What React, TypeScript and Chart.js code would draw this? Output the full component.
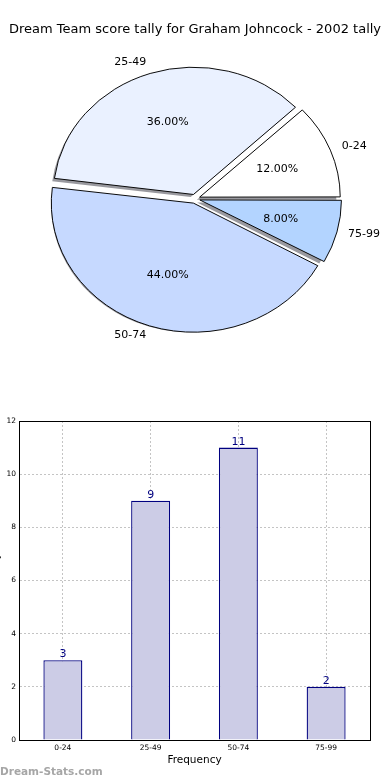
import React, { useEffect, useRef } from 'react';
import { Chart, registerables } from 'chart.js';

Chart.register(...registerables);

const TITLE = 'Dream Team score tally for Graham Johncock - 2002 tally';
const categories = ['0-24', '25-49', '50-74', '75-99'];
const counts = [3, 9, 11, 2];
const pieColors = ['#ffffff', '#eaf1ff', '#c6d9ff', '#b3d4ff'];
const yTicks = [0, 2, 4, 6, 8, 10, 12];
const X_LABEL = 'Frequency';
const Y_LABEL = 'Score tally';
const WATERMARK = 'Dream-Stats.com';

const FONT = "'DejaVu Sans', sans-serif";
const BAR_FILL = '#ccccE6';
const BAR_EDGE = '#000080';
const SY = 0.908; // vertical squash of the pie
const SHADOW = 0.02;

export default function App() {
  const pieRef = useRef<HTMLCanvasElement>(null);
  const barRef = useRef<HTMLCanvasElement>(null);

  useEffect(() => {
    document.body.style.margin = '0';
    const total = counts.reduce((a, b) => a + b, 0);
    const order = categories.map((_, i) => categories.length - 1 - i);

    const arcGeom = (arc: any) => {
      const p = arc.getProps(['x', 'y', 'startAngle', 'endAngle', 'outerRadius'], true);
      const mid = (p.startAngle + p.endAngle) / 2;
      const off = (arc.options.offset || 0) / 4;
      return { ...p, mid, off };
    };

    const pieDecor = {
      id: 'pieDecor',
      beforeDatasetsDraw(chart: any) {
        const meta = chart.getDatasetMeta(0);
        const ctx = chart.ctx;
        const a0 = meta.data[0];
        const cx = a0.x, cy = a0.y;
        ctx.save();
        ctx.translate(cx, cy);
        ctx.scale(1, SY);
        ctx.translate(-cx, -cy);
        ctx.save();
        ctx.fillStyle = 'rgba(70,70,80,0.55)';
        meta.data.forEach((arc: any) => {
          const g = arcGeom(arc);
          const d = SHADOW * g.outerRadius;
          const ox = g.x + Math.cos(g.mid) * g.off - d;
          const oy = g.y + Math.sin(g.mid) * g.off + d;
          ctx.beginPath();
          ctx.moveTo(ox, oy);
          ctx.arc(ox, oy, g.outerRadius + 0.5, g.startAngle, g.endAngle);
          ctx.closePath();
          ctx.fill();
        });
        ctx.restore();
      },
      afterDatasetsDraw(chart: any) {
        const ctx = chart.ctx;
        ctx.restore();
        const meta = chart.getDatasetMeta(0);
        ctx.save();
        ctx.fillStyle = '#000';
        ctx.font = `11px ${FONT}`;
        ctx.textBaseline = 'middle';
        meta.data.forEach((arc: any, i: number) => {
          const ci = order[i];
          const g = arcGeom(arc);
          const R = g.outerRadius;
          const lr = g.off + 1.1 * R;
          const lx = g.x + Math.cos(g.mid) * lr;
          const ly = g.y + Math.sin(g.mid) * lr * SY;
          ctx.textAlign = Math.cos(g.mid) > 0 ? 'left' : 'right';
          ctx.fillText(categories[ci], lx, ly);
          const pr = g.off + 0.6 * R;
          const px = g.x + Math.cos(g.mid) * pr;
          const py = g.y + Math.sin(g.mid) * pr * SY;
          ctx.textAlign = 'center';
          ctx.fillText(((counts[ci] / total) * 100).toFixed(2) + '%', px, py);
        });
        ctx.restore();
      },
    };

    const pie = new Chart(pieRef.current as HTMLCanvasElement, {
      type: 'pie',
      data: {
        labels: order.map((i) => categories[i]),
        datasets: [
          {
            data: order.map((i) => counts[i]),
            backgroundColor: order.map((i) => pieColors[i]),
            borderColor: '#000',
            borderWidth: 1,
            borderJoinStyle: 'miter',
            offset: 20,
            hoverOffset: 0,
            clip: false,
          } as any,
        ],
      },
      options: {
        animation: false,
        responsive: false,
        events: [],
        rotation: 90,
        radius: 139,
        layout: { padding: { bottom: 30 } },
        plugins: {
          legend: { display: false },
          tooltip: { enabled: false },
          title: {
            display: true,
            text: TITLE,
            color: '#000',
            font: { family: FONT, size: 13, weight: 'normal' },
            padding: { top: 22, bottom: 0 },
          },
        },
      } as any,
      plugins: [pieDecor],
    });

    const barDecor = {
      id: 'barDecor',
      afterDatasetsDraw(chart: any) {
        const ctx = chart.ctx;
        const { left, right, top, bottom } = chart.chartArea;
        ctx.save();
        ctx.strokeStyle = '#000';
        ctx.lineWidth = 1;
        const x1 = Math.round(left - 0.5) + 0.5;
        const x2 = Math.round(right - 0.5) + 0.5;
        const y1 = Math.round(top - 0.5) + 0.5;
        const y2 = Math.round(bottom - 0.5) + 0.5;
        ctx.strokeRect(x1, y1, x2 - x1, y2 - y1);
        const meta = chart.getDatasetMeta(0);
        ctx.fillStyle = BAR_EDGE;
        ctx.font = `11px ${FONT}`;
        ctx.textAlign = 'center';
        ctx.textBaseline = 'alphabetic';
        meta.data.forEach((bar: any, i: number) => {
          ctx.fillText(String(counts[i]), bar.x, bar.y - 3);
        });
        ctx.restore();
      },
    };

    const tickFont = { family: FONT, size: 7.5 };
    const bar = new Chart(barRef.current as HTMLCanvasElement, {
      type: 'bar',
      data: {
        labels: categories,
        datasets: [
          {
            data: counts,
            backgroundColor: BAR_FILL,
            borderColor: BAR_EDGE,
            borderWidth: 1.3,
            barPercentage: 0.444,
            categoryPercentage: 1,
          },
        ],
      },
      options: {
        animation: false,
        responsive: false,
        events: [],
        layout: { padding: { top: 21, right: 20, left: 0, bottom: 0 } },
        plugins: { legend: { display: false }, tooltip: { enabled: false } },
        scales: {
          x: {
            offset: true,
            z: 1,
            grid: { offset: false, color: '#c4c4c4', drawTicks: false, lineWidth: 1 },
            border: { display: true, color: '#000', width: 1, dash: [2, 2] },
            ticks: { font: tickFont, color: '#000', padding: 4, maxRotation: 0 },
            title: {
              display: true,
              text: X_LABEL,
              color: '#000',
              font: { family: FONT, size: 10.5 },
              padding: { top: 0, bottom: 13.5 },
            },
            afterFit: (s: any) => {
              s.height = 40;
            },
          },
          y: {
            min: 0,
            max: 12,
            afterBuildTicks: (s: any) => {
              s.ticks = yTicks.map((v) => ({ value: v }));
            },
            grid: { color: '#c4c4c4', drawTicks: false, lineWidth: 1 },
            border: { display: true, color: '#000', width: 1, dash: [2, 2] },
            ticks: { font: tickFont, color: '#000', padding: 3 },
            title: {
              display: true,
              text: Y_LABEL,
              color: '#000',
              font: { family: FONT, size: 10.5 },
              padding: { top: 2.2, bottom: 0 },
            },
            afterFit: (s: any) => {
              s.width = 31;
            },
          },
        },
      } as any,
      plugins: [barDecor],
    });

    return () => {
      pie.destroy();
      bar.destroy();
    };
  }, []);

  return (
    <div style={{ position: 'relative', width: 390, height: 780, overflow: 'hidden', background: '#fff' }}>
      <canvas ref={pieRef} width={390} height={390} style={{ position: 'absolute', left: 0, top: 0 }} />
      <canvas ref={barRef} width={402} height={380} style={{ position: 'absolute', left: -12, top: 400 }} />
      <div
        style={{
          position: 'absolute',
          left: 0,
          top: 763,
          fontFamily: FONT,
          fontSize: 10.5,
          fontWeight: 'bold',
          color: '#a6a6a6',
          lineHeight: '16px',
          whiteSpace: 'nowrap',
        }}
      >
        {WATERMARK}
      </div>
    </div>
  );
}
